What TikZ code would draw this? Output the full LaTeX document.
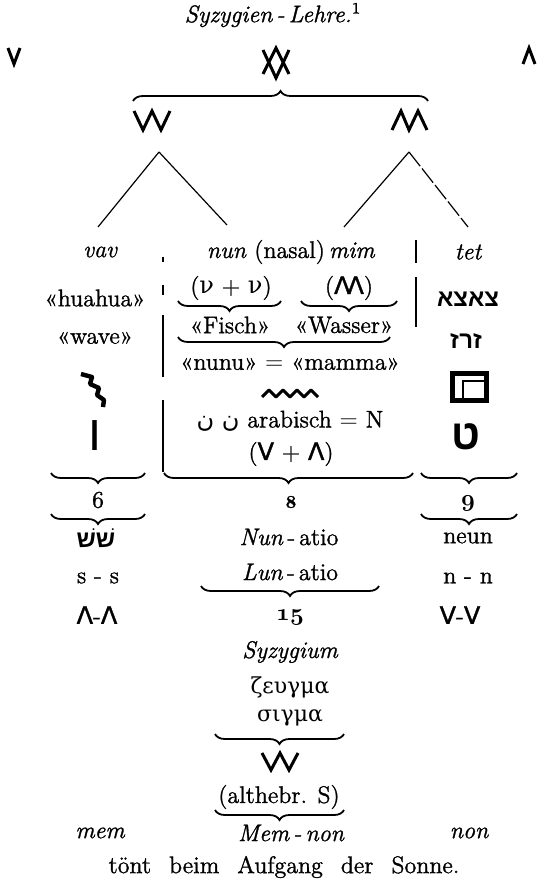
\documentclass[tikz,border=0pt]{standalone}
\usepackage{fontspec}
\usetikzlibrary{decorations.pathreplacing}
\setmainfont{Latin Modern Roman}[FakeBold = 1.2]
\TeXXeTstate=1
\newfontfamily\hebfont[Script=Hebrew]{Liberation Sans}
\newfontfamily\arabicfont[Script=Arabic]{DejaVu Sans}
\newfontfamily\grkfont{DejaVu Serif}
\newfontfamily\symfont{DejaVu Sans}[FakeBold = 1.5]
\newcommand{\osn}[1]{{\boldmath$\mathnormal{#1}$}}

\tikzset{
	txt/.style = {inner sep = 0pt, font = \fontsize{12}{14}\selectfont},
	itx/.style = {inner sep = 0pt, font = \fontsize{12}{14}\selectfont\itshape},
	heb/.style = {inner sep = 0pt, font = \fontsize{12}{14}\selectfont\hebfont\bfseries},
	brc/.style = {decorate, decoration = {brace, amplitude = 5pt}, line width = 0.9pt},
	wedge/.style = {line width = 1.5pt, line join = miter},
	ray/.style = {line width = 0.6pt}
}

\begin{document}
\begin{tikzpicture} [x = 0.5pt, y = -0.5pt]
	\useasboundingbox (0,0) rectangle (545,887);
	\node [itx] (title) at (273,15) {Syzygien\,-\,Lehre.\textsuperscript{\upshape 1}};
	% V, Lambda and the sign made of both
	\draw [wedge] (8,48) -- (14,64) -- (20,48);
	\draw [wedge] (523,64) -- (529,48) -- (535,64);
	\draw [wedge] (263,50) -- (276,78) -- (289,50);
	\draw [wedge] (263,74) -- (276,48) -- (289,74);
	\draw [brc] (133,101) -- (428,101);
	\draw [wedge] (134,111) -- (143,130) -- (152,111) -- (161,130) -- (170,111);
	\draw [wedge] (392,130) -- (401,111) -- (409,130) -- (418,111) -- (427,130);
	% the two forks
	\coordinate (vvtip) at (159,152);
	\coordinate (aatip) at (409,152);
	\coordinate (vavend) at (98,227);
	\coordinate (nunend) at (227,225);
	\coordinate (mimend) at (344,227);
	\coordinate (tetend) at (468,227);
	\draw [ray] (vvtip) -- (vavend);
	\draw [ray] (vvtip) -- (nunend);
	\draw [ray] (aatip) -- (mimend);
	\draw [ray, dash pattern = on 9pt off 1.5pt] (aatip) -- (tetend);
	% column heads
	\node [itx] (vav) at (100,252) {vav};
	\node [txt] (head) at (291,252) {\textit{nun} (nasal)\,\textit{mim}};
	\node [itx] (tet) at (468,252) {tet};
	\node [txt] (huahua) at (95,298) {«huahua»};
	\node [txt] (nunu) at (231,288) {({\grkfont ν} + {\grkfont ν})};
	\node [txt] (mm) at (349,288) {({\symfont Λ\kern-1.5ptΛ})};
	\node [heb] (tsade) at (468,299) {\beginR צאצא\endR};
	\draw [brc] (281,301) -- (178,301);
	\draw [brc] (397,301) -- (301,301);
	\node [txt] (wave) at (95,338) {«wave»};
	\node [txt] (fisch) at (230,325) {«Fisch»};
	\node [txt] (wasser) at (344,325) {«Wasser»};
	\node [heb] (zrz) at (466,341) {\beginR זרז\endR};
	\draw [brc] (390,337) -- (178,337);
	\node [txt] (mamma) at (290,364) {«nunu» $=$ «mamma»};
	% old signs
	\draw [line width = 2.2pt, line join = round] (81,374) -- (92,377) -- (90,384) -- (99,388) -- (97,395) -- (104,400) -- (103,407);
	\draw [line width = 2.2pt] (452.5,373.5) rectangle (486.5,400.5);
	\draw [line width = 1.4pt] (463,400) -- (463,381) -- (486,381);
	\draw [wedge, line join = round] (262,397) -- (269,390) -- (276,397) -- (283,390) -- (290,397) -- (297,390) -- (304,397) -- (311,390) -- (318,397);
	\node [txt] (arab) at (290,421) {{\arabicfont\beginR ن ن\endR} arabisch $=$ N};
	\node [heb, font = \fontsize{25}{27}\selectfont\hebfont] (vavsign) at (95,436) {ו};
	\node [heb, font = \fontsize{21}{24}\selectfont\hebfont\bfseries] (tetsign) at (466,437) {ט};
	\node [txt] (vplus) at (291,454) {({\symfont V} + {\symfont Λ})};
	% dividers
	\draw [ray] (163,257) -- (163,262) (163,285) -- (163,295) (163,315) -- (163,377) (163,400) -- (163,472);
	\draw [ray] (416,240) -- (416,263) (416,277) -- (416,327);
	% numbers
	\draw [brc] (145,473) -- (51,473);
	\draw [brc] (413,473) -- (164,473);
	\draw [brc] (517,473) -- (421,473);
	\node [txt] (six) at (98,500) {6};
	\node [txt, font = \fontsize{9}{10}\selectfont\bfseries] (eight) at (291,502) {8};
	\node [txt] (nine) at (468,503) {\osn{9}};
	\draw [brc] (145,514) -- (51,514);
	\draw [brc] (517,514) -- (421,514);
	\node [heb] (sin) at (96,538) {\beginR שׁשׁ\endR};
	\node [txt] (nunatio) at (289,537) {\textit{Nun}\,-\,atio};
	\node [txt] (neun) at (468,538) {neun};
	\node [txt] (ss) at (98,578) {s - s};
	\node [txt] (lunatio) at (290,572) {\textit{Lun}\,-\,atio};
	\node [txt] (nn) at (468,578) {n - n};
	\draw [brc] (379,586) -- (201,586);
	\node [txt] (aa) at (97,615) {{\symfont Λ}-{\symfont Λ}};
	\node [txt] (fifteen) at (290,617) {\osn{15}};
	\node [txt] (vv) at (460,615) {{\symfont V}-{\symfont V}};
	\node [itx] (syzygium) at (290,652) {Syzygium};
	\node [txt, font = \fontsize{11}{13}\selectfont\grkfont] (zeugma) at (290,687) {ζευγμα};
	\node [txt, font = \fontsize{11}{13}\selectfont\grkfont] (sigma) at (290,718) {σιγμα};
	\draw [brc] (344,734) -- (215,734);
	\draw [wedge] (262,753) -- (271,770) -- (280,753) -- (289,770) -- (298,753);
	\node [txt] (althebr) at (279,797) {(althebr. S)};
	\draw [brc] (344,810) -- (215,810);
	\node [itx] (mem) at (100,833) {mem};
	\node [itx] (memnon) at (291,833) {Mem\,-\,non};
	\node [itx] (non) at (469,833) {non};
	\node [txt] (sonne) at (284,867) {\spaceskip = 9pt\relax tönt beim Aufgang der Sonne.};
\end{tikzpicture}
\end{document}
